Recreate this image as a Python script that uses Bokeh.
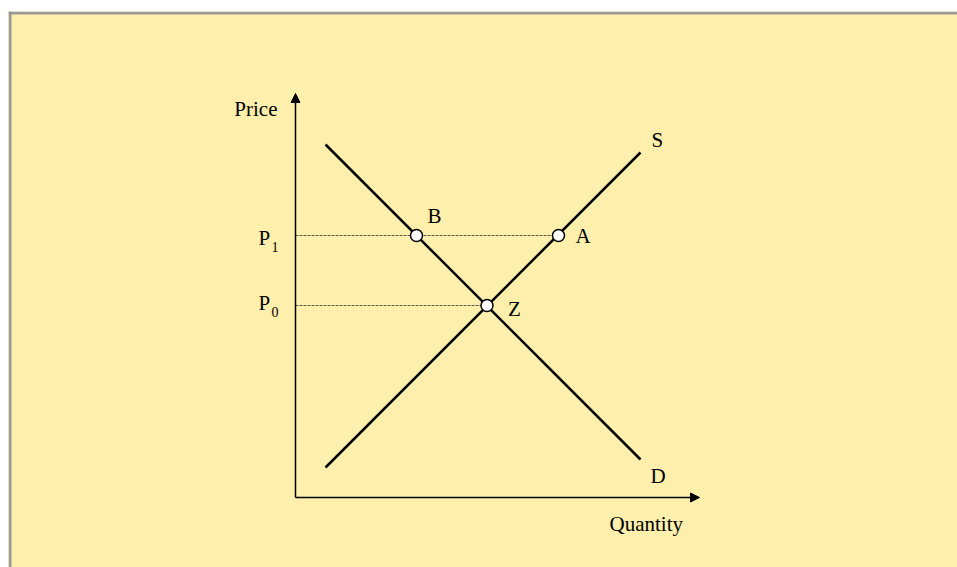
from bokeh.plotting import figure
from bokeh.models import Range1d, Arrow, NormalHead
from bokeh.core.properties import value
from bokeh.embed import file_html
from bokeh.resources import INLINE

# ---- data (quantity, price units; origin at axes intersection) ----
demand_x = [3.0, 34.5]
demand_y = [35.3, 3.8]
supply_x = [3.0, 34.5]
supply_y = [3.0, 34.5]

P0 = 19.2
P1 = 26.2
point_names = ["B", "A", "Z"]
point_x = [12.1, 26.3, 19.15]
point_y = [P1, P1, P0]

axis_len_x = 40.4
axis_len_y = 40.4

BG = "#FEF0AC"
BORDER = "#999999"
FONT = value("Liberation Serif")

x0, x1 = -28.7, 66.2
y0, y1 = -7.0, 48.6

p = figure(width=957, height=567, output_backend="svg", toolbar_location=None,
           x_range=Range1d(x0, x1), y_range=Range1d(y0, y1),
           x_axis_type=None, y_axis_type=None,
           min_border_left=8, min_border_right=0, min_border_top=11, min_border_bottom=0)
p.background_fill_color = BG
p.border_fill_color = "white"
p.outline_line_color = None
p.grid.visible = False

# frame border (left and top)
p.quad(left=[x0, x0], right=[x0 + 0.3, x1], bottom=[y0, y1 - 0.3], top=[y1, y1],
       fill_color=BORDER, line_color=None)

# axes with arrows
head = dict(size=9, fill_color="black", line_color="black", line_width=1)
p.add_layout(Arrow(end=NormalHead(**head), x_start=0, y_start=0, x_end=0, y_end=axis_len_y,
                   line_color="black", line_width=1.5))
p.add_layout(Arrow(end=NormalHead(**head), x_start=0, y_start=0, x_end=axis_len_x, y_end=0,
                   line_color="black", line_width=1.5))

# dashed price lines
p.line([0, point_x[1]], [P1, P1], line_color="#333333", line_width=0.8, line_dash="3 1")
p.line([0, point_x[2]], [P0, P0], line_color="#333333", line_width=0.8, line_dash="3 1")

# demand and supply
p.line(demand_x, demand_y, line_color="black", line_width=2.5)
p.line(supply_x, supply_y, line_color="black", line_width=2.5)

# points
p.scatter(point_x, point_y, size=12, fill_color="white", line_color="black", line_width=1.5)

# labels
UP = 0.8
def label(x, y, t, size="21px", align="left"):
    p.text([x], [y + UP], text=[t], text_font=FONT, text_font_size=size,
           text_align=align, text_baseline="alphabetic", text_color="black")

label(-1.8, 38.1, "Price", align="right")
label(31.4, -3.4, "Quantity")
label(35.6, 35.0, "S")
label(35.5, 1.4, "D")
label(point_x[0] + 1.1, point_y[0] + 1.2, point_names[0])
label(point_x[1] + 1.7, point_y[1] - 0.8, point_names[1])
label(point_x[2] + 2.1, point_y[2] - 1.1, point_names[2])
label(-3.7, P1 - 1.0, "P")
label(-2.4, P1 - 1.9, "1", size="14px")
label(-3.7, P0 - 0.5, "P")
label(-2.4, P0 - 1.4, "0", size="14px")

open("out.html", "w").write(file_html(p, INLINE))
